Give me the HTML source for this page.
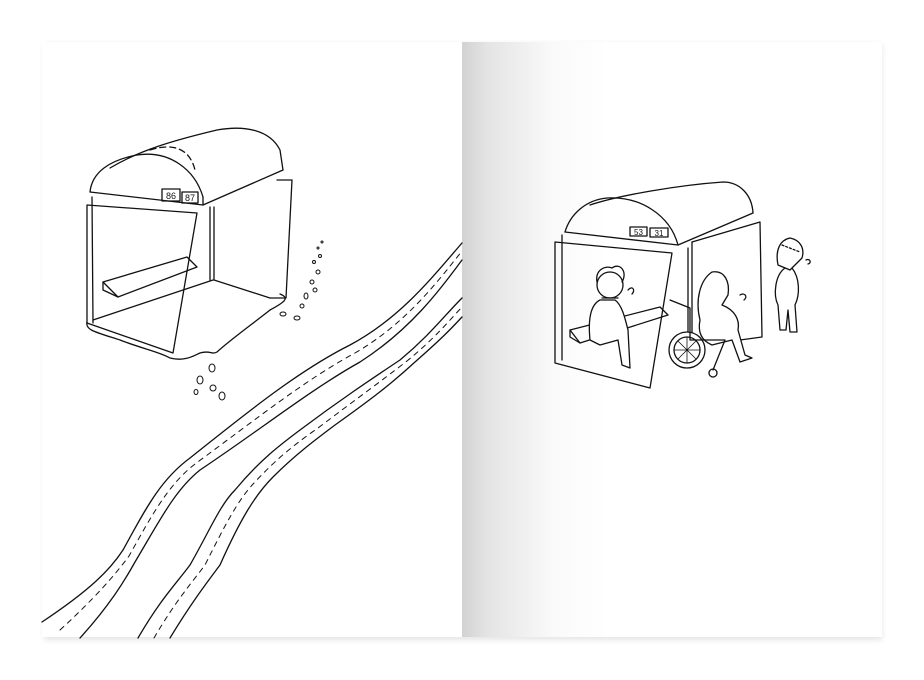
<!DOCTYPE html>
<html><head><meta charset="utf-8"><style>
html,body{margin:0;padding:0;background:#fff;}
svg{display:block}
</style></head><body>
<svg width="924" height="680" viewBox="0 0 924 680" xmlns="http://www.w3.org/2000/svg">
<defs>
<linearGradient id="gut" x1="0" x2="1" y1="0" y2="0">
<stop offset="0" stop-color="#d2d2d2"/><stop offset="0.06" stop-color="#e4e4e4"/><stop offset="0.22" stop-color="#fafafa"/><stop offset="0.35" stop-color="#fff"/><stop offset="1" stop-color="#fff"/>
</linearGradient>
<filter id="sh" x="-5%" y="-5%" width="110%" height="110%"><feGaussianBlur stdDeviation="3"/></filter>
</defs>
<rect width="924" height="680" fill="#fff"/>
<rect x="44" y="44" width="838" height="596" fill="#000" opacity="0.1" filter="url(#sh)"/>
<rect x="42" y="42" width="420" height="595" fill="#fff"/>
<rect x="462" y="42" width="420" height="595" fill="url(#gut)"/>

<g fill="none" stroke="#111" stroke-width="1.3" stroke-linejoin="round" stroke-linecap="round">
<!-- tire tracks -->
<path d="M42,622 C90,590 110,570 123,550 C145,510 160,480 190,458 C250,410 300,370 350,345 C400,318 430,280 462,243"/>
<path d="M80,638 C110,605 125,580 135,562 C160,520 175,490 200,470 C260,430 310,390 360,362 C410,330 440,290 462,260"/>
<path d="M60,630 C95,598 115,575 129,556 C152,515 168,485 195,464 C255,420 305,380 355,353 C405,324 435,285 462,251" stroke-dasharray="5 5" stroke-width="1"/>
<path d="M138,638 C160,600 175,585 190,565 C210,530 220,505 235,490 C260,460 280,445 300,430 C340,400 370,380 400,360 C430,335 445,315 462,298"/>
<path d="M170,638 C190,605 205,585 220,565 C240,520 255,495 273,477 C295,455 315,440 335,425 C370,400 390,385 415,362 C440,340 450,330 462,317"/>
<path d="M154,638 C175,602 190,585 205,565 C225,525 238,500 254,483 C278,457 298,442 318,428 C355,400 380,382 407,361 C435,338 448,322 462,307" stroke-dasharray="5 5" stroke-width="1"/>

<!-- left shelter roof -->
<path d="M90,192 C92,172 110,160 137,155 C170,150 195,170 203,197"/>
<path d="M110,168 C140,150 175,140 217,130 C245,125 270,130 280,150 L283,170"/>
<path d="M90,192 L203,205 L283,170"/>
<path d="M203,197 L203,205"/>
<path d="M150,150 C175,142 190,150 195,170" stroke-dasharray="6 4"/>
<rect x="162" y="189" width="18" height="12"/>
<rect x="182" y="192" width="16" height="11"/>
<!-- walls -->
<path d="M87,205 L197,213 L173,353 L87,323 Z"/>
<path d="M92,197 L93,323"/>
<path d="M210,207 L210,280 M214,207 L214,280"/>
<path d="M277,180 L292,180 L286,298 L270,298"/>
<path d="M214,280 L270,298"/>
<path d="M93,320 L213,280"/>
<path d="M87,322 C85,330 95,332 120,340 C140,348 160,352 170,358 C185,362 195,355 200,353 C210,350 212,355 217,352 C230,340 255,322 270,310 C285,302 290,298 280,294"/>
<path d="M103,282 L187,257 L197,267 L118,297 Z"/>
<path d="M103,282 L103,290 L118,297"/>
<!-- footprints -->
<g stroke-width="1">
<ellipse cx="200" cy="380" rx="3" ry="4"/><ellipse cx="212" cy="368" rx="3" ry="4"/><ellipse cx="196" cy="392" rx="2" ry="2.5"/>
<ellipse cx="213" cy="388" rx="3" ry="3"/><ellipse cx="222" cy="396" rx="3" ry="4"/>
<ellipse cx="283" cy="314" rx="3" ry="2"/><ellipse cx="297" cy="318" rx="3" ry="2"/><ellipse cx="302" cy="306" rx="2" ry="2"/>
<ellipse cx="306" cy="296" rx="2" ry="3"/><ellipse cx="315" cy="290" rx="2" ry="2"/><ellipse cx="312" cy="282" rx="2" ry="2"/>
<ellipse cx="318" cy="272" rx="2" ry="2"/><ellipse cx="314" cy="262" rx="1.5" ry="1.5"/><ellipse cx="320" cy="256" rx="1.5" ry="1.5"/>
<ellipse cx="318" cy="248" rx="1" ry="1"/><ellipse cx="322" cy="242" rx="1" ry="1"/>
</g>

<!-- right shelter -->
<path d="M565,232 C570,215 585,200 607,198 C640,196 670,215 678,245"/>
<path d="M590,205 C620,195 680,185 723,182 C740,182 752,195 753,213"/>
<path d="M565,232 L678,245 L753,213"/>
<rect x="630" y="227" width="17" height="9"/>
<rect x="650" y="228" width="18" height="9"/>
<path d="M555,242 L672,253 L650,388 L555,363 Z"/>
<path d="M562,235 L562,360"/>
<path d="M692,242 L692,337 M688,248 L688,340"/>
<path d="M692,242 L760,222 L762,337 L740,340"/>
<path d="M570,330 L660,307 L668,315 L580,343 Z"/>
<path d="M570,330 L570,337 L580,343"/>
<!-- seated person -->
<g fill="#fff">
<path d="M600,300 C590,305 588,320 590,340 L600,345 L618,340 L622,365 L630,368 L628,330 C625,318 622,305 615,300 Z"/>
<circle cx="610" cy="285" r="13"/>
</g>
<path d="M597,282 C595,270 605,265 612,268 C620,262 628,272 622,282"/>
<path d="M602,298 L618,298"/>
<path d="M628,290 C632,285 636,290 632,294"/>
<!-- wheelchair person -->
<path fill="#fff" d="M700,320 C695,300 700,280 712,272 C725,270 730,282 728,295 L722,305 C735,310 740,320 738,330 L745,355 L752,358 L740,362 L732,340 L712,345 C700,340 698,330 700,320 Z"/>
<circle cx="687" cy="350" r="18" fill="#fff"/>
<circle cx="687" cy="350" r="13"/>
<path d="M674,350 L700,350 M687,337 L687,363 M678,341 L696,359 M696,341 L678,359" stroke-width="0.8"/>
<circle cx="713" cy="373" r="4"/>
<path d="M670,300 L690,308 L690,340 L725,340 L713,370"/>
<path d="M740,295 C745,292 748,297 744,300"/>
<!-- standing person -->
<g fill="#fff">
<path d="M785,268 C775,275 773,295 778,305 L780,330 L786,330 L788,310 L790,332 L797,332 L795,305 C800,295 800,278 792,268"/>
<path d="M778,265 C775,250 780,240 790,238 C800,240 805,248 802,258 L790,270 Z"/>
</g>
<path d="M782,245 L800,252" stroke-dasharray="2 2"/>
<path d="M806,260 C810,258 812,263 808,264"/>
</g>
<g font-family="Liberation Sans, sans-serif" fill="#111" text-anchor="middle">
<text x="171" y="199" font-size="9">86</text>
<text x="190" y="201" font-size="9">87</text>
<text x="638.5" y="235" font-size="8">53</text>
<text x="659" y="236" font-size="8">31</text>
</g>
</svg>
</body></html>
